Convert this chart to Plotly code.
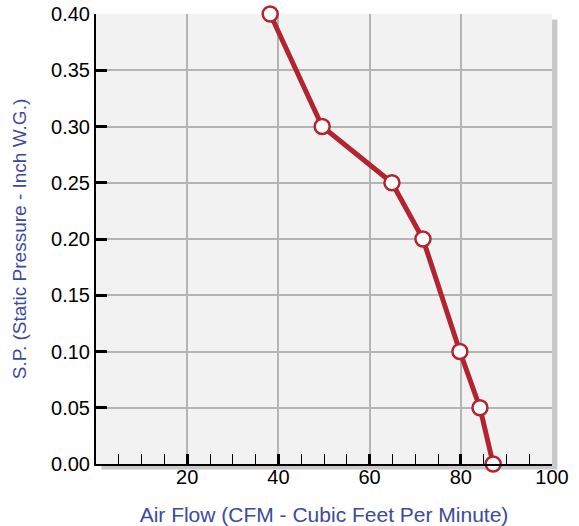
import plotly.graph_objects as go

# air flow (CFM) vs static pressure (inch W.G.)
air_flow = [38.2, 49.6, 64.9, 71.7, 79.8, 84.2, 87.1]
static_pressure = [0.40, 0.30, 0.25, 0.20, 0.10, 0.05, 0.00]

x_ticks = [20, 40, 60, 80, 100]
y_ticks = [0.00, 0.05, 0.10, 0.15, 0.20, 0.25, 0.30, 0.35, 0.40]

red = "#b22530"
blue = "#3b4a9e"
grid = "#b4b4b4"

fig = go.Figure()
fig.add_trace(go.Scatter(
    x=air_flow,
    y=static_pressure,
    mode="lines+markers",
    line=dict(color=red, width=5),
    marker=dict(size=15, color="white", line=dict(color=red, width=2.5)),
    cliponaxis=False,
    showlegend=False,
))

# drop shadow + plot background, drawn as paper shapes under the grid
fig.add_shape(type="rect", xref="paper", yref="paper", x0=0.012, x1=1.012, y0=-0.012, y1=0.988,
              fillcolor="#c8c8c8", line_width=0, layer="below")
fig.add_shape(type="rect", xref="paper", yref="paper", x0=0, x1=1, y0=0, y1=1,
              fillcolor="#f2f2f2", line_width=0, layer="below")

tick_style = dict(ticks="inside", tickwidth=3, tickcolor="black")

fig.update_layout(
    width=579, height=526,
    template="none",
    margin=dict(l=96, r=27, t=14, b=62),
    paper_bgcolor="white",
    plot_bgcolor="rgba(0,0,0,0)",
    font=dict(family="Arial, Liberation Sans, sans-serif", size=20, color="black"),
    xaxis=dict(
        range=[0, 100],
        automargin=False,
        tickvals=x_ticks,
        ticklabelstandoff=-6,
        ticklen=10, **tick_style,
        minor=dict(dtick=5, ticks="inside", ticklen=10, tickwidth=1, tickcolor="black", showgrid=False),
        showgrid=True, gridcolor=grid, gridwidth=2,
        showline=True, linecolor="black", linewidth=2,
        zeroline=False,
        title=dict(text="Air Flow (CFM - Cubic Feet Per Minute)", font=dict(color=blue, size=21), standoff=21),
    ),
    yaxis=dict(
        range=[0, 0.40],
        automargin=False,
        tickvals=y_ticks,
        tickformat=".2f",
        ticklen=11, **tick_style,
        showgrid=True, gridcolor=grid, gridwidth=2,
        showline=True, linecolor="black", linewidth=2,
        zeroline=False,
        title=dict(text="S.P. (Static Pressure - Inch W.G.)", font=dict(color=blue, size=19), standoff=19),
    ),
    # overlay axes that only carry the bold major ticks
    xaxis2=dict(
        range=[0, 100], overlaying="x", anchor="y", side="bottom",
        tickvals=x_ticks, ticklen=10, **tick_style,
        showticklabels=False, showgrid=False, showline=False, zeroline=False,
        automargin=False,
    ),
    yaxis2=dict(
        range=[0, 0.40], overlaying="y", anchor="x", side="left",
        tickvals=y_ticks, ticklen=11, **tick_style,
        showticklabels=False, showgrid=False, showline=False, zeroline=False,
        automargin=False,
    ),
)

# drop the default 8px page margin so the figure sits at the window corner
fig.write_html("out.html", config={"displayModeBar": False},
               post_script="document.body.style.margin = '0';")
